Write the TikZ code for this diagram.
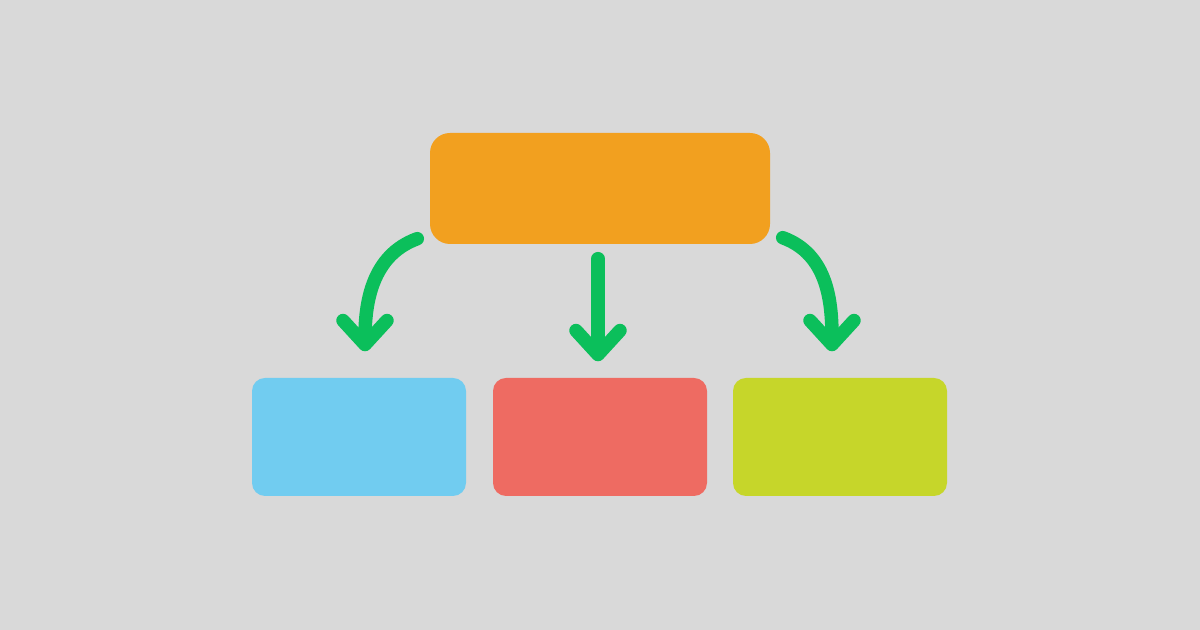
\documentclass[tikz,border=0pt]{standalone}
\usetikzlibrary{arrows.meta}

\definecolor{bggrey}{HTML}{D9D9D9}
\definecolor{boxorange}{HTML}{F2A01F}
\definecolor{boxblue}{HTML}{71CCF0}
\definecolor{boxred}{HTML}{EE6B62}
\definecolor{boxlime}{HTML}{C6D62A}
\definecolor{flowgreen}{HTML}{0BBF5B}

\begin{document}
\begin{tikzpicture}[
  topbox/.style={fill=boxorange, rounded corners=2mm, minimum width=3.4cm, minimum height=1.11cm, inner sep=0pt},
  subbox/.style={rounded corners=1.3mm, minimum width=2.14cm, minimum height=1.18cm, inner sep=0pt},
  flow/.style={draw=flowgreen, line width=1.35mm, line cap=round, -{Straight Barb[length=2.4mm,width=4.4mm,round]}}
]
\fill[bggrey] (0,0) rectangle (12,6.3);

\node[topbox] (top) at (6,4.415) {};
\node[subbox, fill=boxblue] (left) at (3.59,1.93) {};
\node[subbox, fill=boxred] (mid) at (6,1.93) {};
\node[subbox, fill=boxlime] (right) at (8.40,1.93) {};

\draw[flow] ([xshift=-1.2mm,yshift=0.6mm]top.south west) to[out=200,in=90] ([xshift=0.6mm,yshift=2.6mm]left.north);
\draw[flow] ([xshift=-0.2mm,yshift=-1.4mm]top.south) -- ([xshift=-0.2mm,yshift=1.6mm]mid.north);
\draw[flow] ([xshift=1.2mm,yshift=0.7mm]top.south east) to[out=-20,in=90] ([xshift=-0.8mm,yshift=2.6mm]right.north);
\end{tikzpicture}
\end{document}
